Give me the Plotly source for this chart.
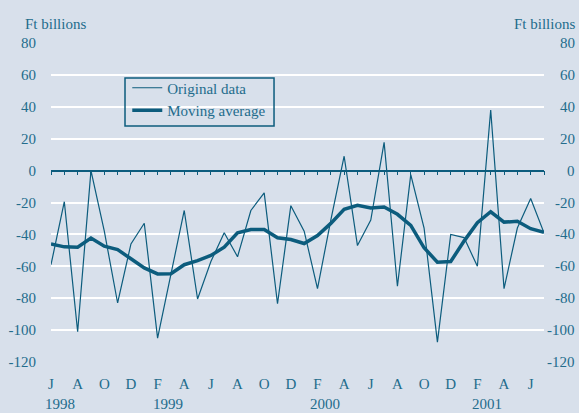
import plotly.graph_objects as go

# Monthly figures, June 1998 to July 2001
months = list(range(38))
original = [-59, -19.5, -101, 0, -38, -83, -46, -33, -105, -66,
            -25, -80.5, -57, -39, -54, -25, -14, -83.5, -22, -38,
            -74, -31, 9, -47, -31, 17.7, -72.5, -2.5, -36, -107.5,
            -40, -42, -60, 38, -74, -36, -17.5, -39]
moving_avg = [-46, -47.8, -48, -42.3, -47.4, -49.5, -55.3, -61, -64.8, -64.6,
              -59, -56.4, -53.2, -48, -39, -36.9, -36.9, -42.1, -43.2, -45.7,
              -40.7, -33.1, -24.3, -21.8, -23.5, -22.8, -27.4, -34.3, -48.4, -57.4,
              -57, -44.2, -32.7, -25.8, -32.3, -31.8, -36.4, -38.7]

tick_months = list(range(0, 38, 2))
tick_text = ["J", "A", "O", "D", "F", "A", "J", "A", "O", "D",
             "F", "A", "J", "A", "O", "D", "F", "A", "J"]
years = ["1998", "1999", "2000", "2001"]
year_x = [0.7, 8.8, 20.6, 32.7]
y_ticks = list(range(-120, 81, 20))
y_text = [str(v) for v in y_ticks]

BG = "#d8e0eb"
TEAL = "#0c5c7d"
TXT = "#236c8c"
FONT = "Liberation Serif, 'Times New Roman', serif"

fig = go.Figure()

fig.add_trace(
    go.Scatter(
        x=months,
        y=original,
        mode='lines',
        name='Original data',
        line=dict(color=TEAL, width=1.2),
    )
)

# thick line sits on the overlay axes (the zero line with monthly ticks)
fig.add_trace(
    go.Scatter(
        x=months,
        y=moving_avg,
        mode='lines',
        name='Moving average',
        line=dict(color=TEAL, width=3.5),
        xaxis='x2',
        yaxis='y2',
    )
)

# plot area runs from x=51 to x=544 px; paper is 526 px wide
x_end = 493 / 526

fig.update_layout(
    width=579,
    height=413,
    margin={"l": 51, "r": 2, "t": 43, "b": 51},
    paper_bgcolor=BG,
    plot_bgcolor=BG,
    font=dict(family=FONT, size=15, color=TXT),
    showlegend=True,
    legend=dict(
        x=0.145, y=0.9107, xanchor='left', yanchor='top',
        bgcolor='rgba(0,0,0,0)', borderwidth=0,
        font=dict(family=FONT, size=15, color=TXT),
        tracegroupgap=0,
    ),
    xaxis=dict(
        domain=[0, x_end],
        range=[0, 37],
        tickvals=tick_months,
        ticktext=tick_text,
        ticks='outside', ticklen=8, tickcolor='rgba(0,0,0,0)',
        showgrid=False, zeroline=False, showline=False,
    ),
    xaxis2=dict(
        domain=[0, x_end],
        overlaying='x',
        anchor='free',
        position=0.6,
        range=[0, 37],
        tickvals=months,
        ticks='outside', ticklen=4, tickwidth=1.2, tickcolor=TEAL,
        showline=True, linecolor=TEAL, linewidth=1.5,
        showticklabels=False, showgrid=False, zeroline=False,
    ),
    yaxis=dict(
        domain=[0, 1],
        range=[-120, 80],
        tickvals=y_ticks,
        ticktext=y_text,
        ticks='outside', ticklen=11, tickcolor='rgba(0,0,0,0)',
        showgrid=True, gridcolor='white', gridwidth=2,
        zeroline=False, showline=False,
    ),
    yaxis2=dict(
        overlaying='y',
        range=[-120, 80],
        showticklabels=False,
        showgrid=False, zeroline=False, showline=False,
    ),
)

# legend frame
fig.add_shape(type='rect', xref='paper', yref='paper',
              x0=0.1407, x1=0.424, y0=0.7398, y1=0.8903,
              line=dict(color=TEAL, width=1.5), fillcolor='rgba(0,0,0,0)')

# right-hand tick labels, right aligned at the page edge
for v, t in zip(y_ticks, y_text):
    fig.add_annotation(x=1.0, y=v, xref='paper', yref='y',
                       text=t, showarrow=False,
                       xanchor='right', yanchor='middle')

fig.add_annotation(x=-0.0527, y=1.061, xref='paper', yref='paper',
                   text='Ft billions', showarrow=False,
                   xanchor='left', yanchor='middle')
fig.add_annotation(x=1.0, y=1.061, xref='paper', yref='paper',
                   text='Ft billions', showarrow=False,
                   xanchor='right', yanchor='middle')

for label, xpos in zip(years, year_x):
    fig.add_annotation(x=xpos, y=-0.1332, xref='x', yref='paper',
                       text=label, showarrow=False,
                       xanchor='center', yanchor='middle')

fig.write_html("out.html",
               config={"displayModeBar": False},
               post_script="document.body.style.margin='0px';")
